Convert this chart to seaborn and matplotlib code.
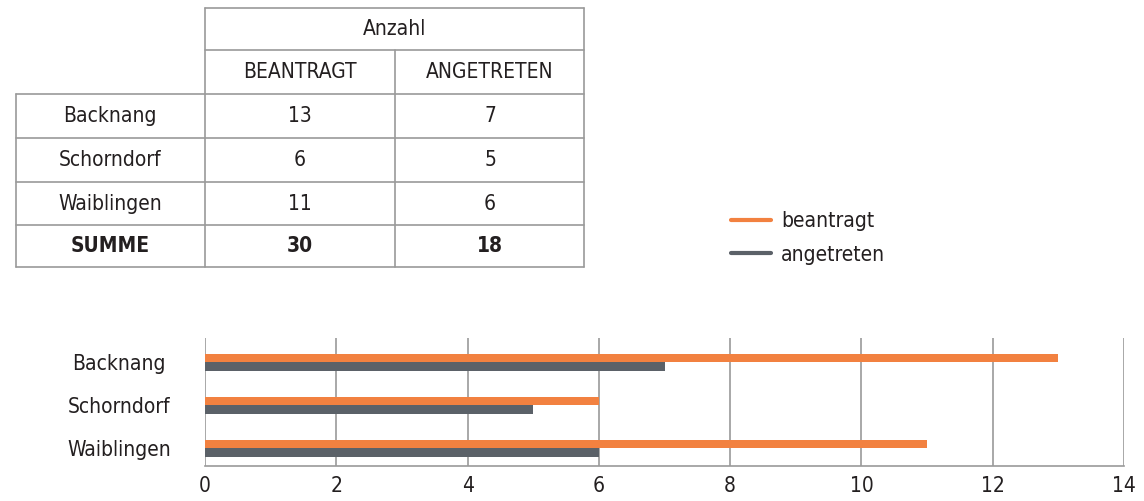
import pandas as pd
import seaborn as sns
import matplotlib.pyplot as plt
from matplotlib.lines import Line2D

standorte = ["Backnang", "Schorndorf", "Waiblingen"]
beantragt = [13, 6, 11]
angetreten = [7, 5, 6]
spalten = ["BEANTRAGT", "ANGETRETEN"]
serien = ["beantragt", "angetreten"]
xticks = [0, 2, 4, 6, 8, 10, 12, 14]

orange = "#F28140"
grau = "#5B6168"
linie = "#9A9A9A"
textfarbe = "#231F20"

sns.set_theme(style="white")
plt.rcParams["font.family"] = ["DejaVu Sans"]
plt.rcParams["font.stretch"] = "condensed"
plt.rcParams["text.color"] = textfarbe

df = pd.DataFrame({"Standort": standorte, "beantragt": beantragt, "angetreten": angetreten})
long = df.melt(id_vars="Standort", var_name="Art", value_name="Anzahl")

fig = plt.figure(figsize=(11.44, 5.01), dpi=100)

# --- table (drawn in pixel coords) ---
tab = fig.add_axes([0, 0, 1, 1])
tab.set_xlim(0, 1144)
tab.set_ylim(501, 0)
tab.axis("off")

xs = [16, 205, 395, 584]
ys = [8, 50, 94, 138, 182, 225, 267]
kw = dict(color=linie, lw=1.2)
tab.plot([205, 584], [8, 8], **kw)
tab.plot([205, 584], [50, 50], **kw)
for y in ys[2:]:
    tab.plot([16, 584], [y, y], **kw)
tab.plot([16, 16], [94, 267], **kw)
tab.plot([205, 205], [8, 267], **kw)
tab.plot([395, 395], [50, 267], **kw)
tab.plot([584, 584], [8, 267], **kw)

fs = 15
tab.text(395, 29, "Anzahl", ha="center", va="center", fontsize=fs)
for i, s in enumerate(spalten):
    tab.text((xs[i + 1] + xs[i + 2]) / 2, 72, s, ha="center", va="center", fontsize=fs)

zeilen = list(zip(standorte, beantragt, angetreten)) + [("SUMME", sum(beantragt), sum(angetreten))]
for r, (name, b, a) in enumerate(zeilen):
    yc = (ys[r + 2] + ys[r + 3]) / 2
    fw = "bold" if name == "SUMME" else "normal"
    tab.text(110, yc, name, ha="center", va="center", fontsize=fs, fontweight=fw)
    tab.text(300, yc, str(b), ha="center", va="center", fontsize=fs, fontweight=fw)
    tab.text(490, yc, str(a), ha="center", va="center", fontsize=fs, fontweight=fw)

# --- bar chart ---
ax = fig.add_axes([205 / 1144, 1 - 466 / 501, 919 / 1144, 128 / 501])
sns.barplot(data=long, y="Standort", x="Anzahl", hue="Art", hue_order=serien,
            palette=[orange, grau], saturation=1, orient="h", width=0.4, gap=0,
            linewidth=0, legend=False, ax=ax)
ax.set_xlim(0, 14)
ax.set_ylim(2.41, -0.57)
ax.set_xticks(xticks)
ax.set_xticklabels([str(t) for t in xticks])
ax.xaxis.grid(True, color=linie, lw=1.2)
ax.set_axisbelow(True)
for s in ["top", "right", "left"]:
    ax.spines[s].set_visible(False)
ax.spines["bottom"].set_color(linie)
ax.spines["bottom"].set_linewidth(1.2)
ax.set_xlabel("")
ax.set_ylabel("")
ax.tick_params(axis="x", length=0, pad=7, labelsize=fs, colors=textfarbe)
ax.tick_params(axis="y", length=0, pad=62, labelsize=fs, colors=textfarbe)
for lab in ax.get_yticklabels():
    lab.set_ha("center")

handles = [Line2D([], [], color=orange, lw=3), Line2D([], [], color=grau, lw=3)]
fig.legend(handles, serien, loc="upper left", bbox_to_anchor=(731 / 1144, 1 - 211 / 501),
           frameon=False, fontsize=fs, handlelength=1.9, handletextpad=0.5,
           labelspacing=0.65, borderaxespad=0, borderpad=0)

fig.savefig("out.png", dpi=100)
